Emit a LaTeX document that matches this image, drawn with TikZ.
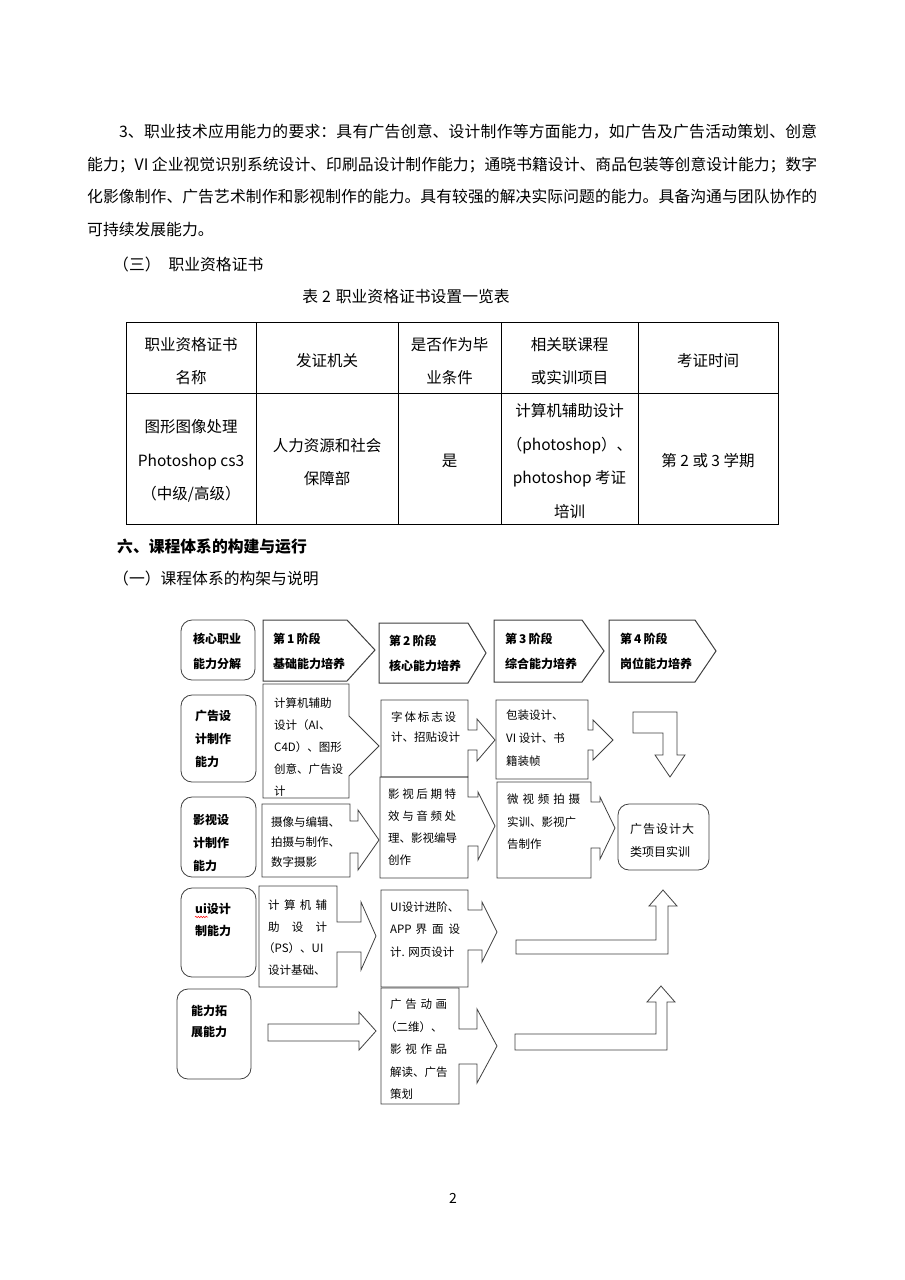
\documentclass[tikz,border=0pt]{standalone}
\usepackage{fontspec}
\setmainfont{Noto Sans CJK SC}
\usetikzlibrary{decorations.pathmorphing}
\XeTeXlinebreaklocale "zh"
\XeTeXlinebreakskip=0pt plus 1fil minus 0.6pt
\newcommand\spreadto[2]{\parbox[b]{#1pt}{\parfillskip=0pt\noindent #2}}
\tikzset{
  shp/.style={draw=black!75, line width=0.8pt, line join=miter},
  stg/.style={draw=black!75, line width=1pt, line join=miter},
  rbox/.style={draw=black!75, line width=0.8pt, rounded corners=11pt},
  tline/.style={draw=black, line width=0.7pt},
  body/.style={font=\fontsize{15.8}{16}\selectfont, anchor=west, inner sep=0pt},
  tcell/.style={font=\fontsize{15.5}{33.5}\selectfont, align=center, inner sep=0pt},
  btxt/.style={font=\bfseries\fontsize{12}{23}\selectfont, anchor=north west, inner sep=0pt, align=left},
  dtxt/.style={font=\fontsize{11.5}{22}\selectfont, anchor=north west, inner sep=0pt, align=left},
}
\begin{document}
\begin{tikzpicture}[x=1pt,y=-1pt]
\useasboundingbox[fill=white] (0,0) rectangle (905,1280);

% ---------- body text ----------
\node[body] (p1) at (119,132) {\spreadto{698}{3、职业技术应用能力的要求：具有广告创意、设计制作等方面能力，如广告及广告活动策划、创意}};
\node[body] (p2) at (87,165) {\spreadto{730}{能力；VI 企业视觉识别系统设计、印刷品设计制作能力；通晓书籍设计、商品包装等创意设计能力；数字}};
\node[body] (p3) at (87,197) {\spreadto{730}{化影像制作、广告艺术制作和影视制作的能力。具有较强的解决实际问题的能力。具备沟通与团队协作的}};
\node[body] (p4) at (87,229) {可持续发展能力。};
\node[body] (h3) at (113,264) {（三）\hspace{8pt}职业资格证书};
\node[body, anchor=center] (cap) at (406,297) {表\hspace{4pt}2\hspace{5pt}职业资格证书设置一览表};

% ---------- table ----------
\draw[tline] (126,322) rectangle (778,524);
\draw[tline] (126,393) -- (778,393);
\foreach \x in {256,398,501,638} \draw[tline] (\x,322) -- (\x,524);
\node[tcell] (c11) at (191,361) {职业资格证书\\名称};
\node[tcell] (c12) at (327,361) {发证机关};
\node[tcell] (c13) at (449.5,361) {是否作为毕\\业条件};
\node[tcell] (c14) at (569.5,361) {相关联课程\\或实训项目};
\node[tcell] (c15) at (708,361) {考证时间};
\node[tcell] (c21) at (191,461) {图形图像处理\\Photoshop cs3\\（中级/高级）};
\node[tcell] (c22) at (327,462) {人力资源和社会\\保障部};
\node[tcell] (c23) at (449.5,461) {是};
\node[tcell] (c24) at (569.5,461) {计算机辅助设计\\（photoshop）、\\photoshop 考证\\培训};
\node[tcell] (c25) at (708,461) {第 2 或 3 学期};

% ---------- headings ----------
\node[body, font=\bfseries\fontsize{15.8}{16}\selectfont] (h6) at (117,547) {六、课程体系的构建与运行};
\node[body] (h61) at (113,578) {（一）课程体系的构架与说明};

% ---------- diagram: stage row ----------
\draw[rbox] (181,620) rectangle (255,680);
\draw[stg] (263,620) -- (347,620) -- (375,650) -- (347,681) -- (263,681) -- cycle;
\draw[stg] (379,623) -- (468,623) -- (486,653) -- (468,683) -- (379,683) -- cycle;
\draw[stg] (494,620) -- (582,620) -- (604,651) -- (582,682) -- (494,682) -- cycle;
\draw[stg] (609,620) -- (695,620) -- (716,651) -- (695,682) -- (609,682) -- cycle;
\node[btxt, font=\bfseries\fontsize{12}{25}\selectfont] (n0) at (193,633) {核心职业\\能力分解};
\node[btxt, font=\bfseries\fontsize{12}{25}\selectfont] (s1) at (273,633) {第\,1\,阶段\\基础能力培养};
\node[btxt, font=\bfseries\fontsize{12}{25}\selectfont] (s2) at (389,635) {第\,2\,阶段\\核心能力培养};
\node[btxt, font=\bfseries\fontsize{12}{25}\selectfont] (s3) at (505,633) {第\,3\,阶段\\综合能力培养};
\node[btxt, font=\bfseries\fontsize{12}{25}\selectfont] (s4) at (620,633) {第\,4\,阶段\\岗位能力培养};

% ---------- row 1 ----------
\draw[rbox] (181,695) rectangle (256,782);
\node[btxt] (r1) at (195,710) {广告设\\计制作\\能力};
\draw[shp] (263,684) -- (349,684) -- (349,716) -- (379,746) -- (349,776) -- (349,798) -- (263,798) -- cycle;
\node[dtxt] (a1) at (274,697.5) {计算机辅助\\设计（AI、\\C4D）、图形\\创意、广告设\\计};
\draw[shp] (381,700) -- (468,700) -- (468,730) -- (477,730) -- (477,719) -- (495,740) -- (477,761) -- (477,750) -- (468,750) -- (468,777) -- (381,777) -- cycle;
\node[dtxt, font=\fontsize{11.5}{20}\selectfont] (b1) at (391,711.5) {\spreadto{65}{字体标志设}\\计、招贴设计};
\draw[shp] (496,700) -- (588,700) -- (588,730) -- (593,730) -- (593,720) -- (613,740) -- (593,760) -- (593,750) -- (588,750) -- (588,779) -- (496,779) -- cycle;
\node[dtxt, font=\fontsize{11.5}{23}\selectfont] (c1) at (506,710) {包装设计、\\VI 设计、书\\籍装帧};
\draw[shp] (633,712) -- (677,712) -- (677,755) -- (685,755) -- (670,777) -- (655,755) -- (663,755) -- (663,733) -- (633,733) -- cycle;

% ---------- row 2 ----------
\draw[rbox] (181,797) rectangle (256,877);
\node[btxt] (r2) at (193,814) {影视设\\计制作\\能力};
\draw[shp] (262,804) -- (350,804) -- (350,821) -- (358,821) -- (358,810) -- (379,840) -- (358,870) -- (358,853) -- (350,853) -- (350,877) -- (262,877) -- cycle;
\node[dtxt, font=\fontsize{11.5}{20}\selectfont] (a2) at (271,817) {摄像与编辑、\\拍摄与制作、\\数字摄影};
\draw[shp] (380,777) -- (468,777) -- (468,797) -- (478,797) -- (478,792) -- (495,826) -- (478,860) -- (478,846) -- (468,846) -- (468,878) -- (380,878) -- cycle;
\node[dtxt] (b2) at (388,789) {\spreadto{68}{影视后期特}\\\spreadto{68}{效与音频处}\\理、影视编导\\创作};
\draw[shp] (497,782) -- (591,782) -- (591,802) -- (600,802) -- (600,797) -- (615,828) -- (600,859) -- (600,848) -- (591,848) -- (591,878) -- (497,878) -- cycle;
\node[dtxt, font=\fontsize{11.5}{22.5}\selectfont] (c2) at (507,794) {\spreadto{73}{微视频拍摄}\\实训、影视广\\告制作};
\draw[rbox] (618,804) rectangle (709,870);
\node[dtxt, font=\fontsize{12}{23}\selectfont] (fin) at (630,823) {\spreadto{64}{广告设计大}\\类项目实训};

% ---------- row 3 ----------
\draw[rbox] (181,888) rectangle (256,977);
\node[btxt, font=\bfseries\fontsize{12}{22}\selectfont] (r3) at (195,903) {ui设计\\制能力};
\draw[red, line width=0.5pt, decorate, decoration={snake, amplitude=0.7pt, segment length=2.6pt}] (195,917) -- (208,917);
\draw[shp] (259,886) -- (337,886) -- (337,922) -- (361,922) -- (361,902) -- (376,936) -- (361,970) -- (361,952) -- (337,952) -- (337,987) -- (259,987) -- cycle;
\node[dtxt, font=\fontsize{11.5}{21.5}\selectfont] (a3) at (268,900) {\spreadto{59}{计算机辅}\\\spreadto{59}{助设计}\\\kern-5pt（PS）、UI\\设计基础、};
\draw[shp] (381,890) -- (468,890) -- (468,910) -- (482,910) -- (482,902) -- (497,932) -- (482,962) -- (482,950) -- (468,950) -- (468,987) -- (381,987) -- cycle;
\node[dtxt, font=\fontsize{11.5}{22.5}\selectfont] (b3) at (390,901.5) {UI设计进阶、\\\spreadto{70}{APP\hspace{4pt}界面设}\\计. 网页设计};
\draw[shp] (516,940) -- (656,940) -- (656,906) -- (649,906) -- (663,890) -- (677,906) -- (668,906) -- (668,954) -- (516,954) -- cycle;

% ---------- row 4 ----------
\draw[rbox] (177,989) rectangle (251,1079);
\node[btxt, font=\bfseries\fontsize{12}{21}\selectfont] (r4) at (191,1005) {能力拓\\展能力};
\draw[shp] (268,1024) -- (359,1024) -- (359,1012) -- (376,1031) -- (359,1050) -- (359,1041) -- (268,1041) -- cycle;
\draw[shp] (381,988) -- (459,988) -- (459,1029) -- (477,1029) -- (477,1009) -- (497,1046) -- (477,1083) -- (477,1064) -- (459,1064) -- (459,1104) -- (381,1104) -- cycle;
\node[dtxt, font=\fontsize{11.5}{22.5}\selectfont] (b4) at (390,999) {\spreadto{57}{广告动画}\\\kern-5pt（二维）、\\\spreadto{57}{影视作品}\\解读、广告\\策划};
\draw[shp] (515,1034) -- (656,1034) -- (656,1002) -- (647,1002) -- (661,986) -- (675,1002) -- (667,1002) -- (667,1050) -- (515,1050) -- cycle;

% ---------- page number ----------
\node[font=\fontsize{14}{14}\selectfont, inner sep=0pt] (pg) at (453,1198) {2};
\end{tikzpicture}
\end{document}
